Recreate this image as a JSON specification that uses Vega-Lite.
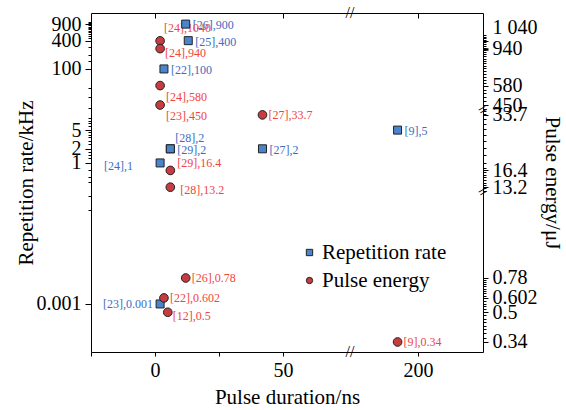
{
"$schema": "https://vega.github.io/schema/vega-lite/v6.json",
"width": 392, "height": 339,
"autosize": {"type": "none"},
"padding": {"left": 91, "top": 13, "right": 83, "bottom": 58},
"datasets": {
 "rate": [
  {"dur": 12, "val": 900, "label": "[26],900", "series": "Repetition rate"},
  {"dur": 13, "val": 400, "label": "[25],400", "series": "Repetition rate"},
  {"dur": 3.5, "val": 100, "label": "[22],100", "series": "Repetition rate"},
  {"dur": 6, "val": 2, "label": "[28],2", "series": "Repetition rate"},
  {"dur": 6, "val": 2, "label": "[29],2", "series": "Repetition rate"},
  {"dur": 42, "val": 2, "label": "[27],2", "series": "Repetition rate"},
  {"dur": 2, "val": 1, "label": "[24],1", "series": "Repetition rate"},
  {"dur": 192, "val": 5, "label": "[9],5", "series": "Repetition rate"},
  {"dur": 2, "val": 0.001, "label": "[23],0.001", "series": "Repetition rate"}
 ],
 "energy": [
  {"dur": 2, "val": 1040, "label": "[24],1040", "series": "Pulse energy"},
  {"dur": 2, "val": 940, "label": "[24],940", "series": "Pulse energy"},
  {"dur": 2, "val": 580, "label": "[24],580", "series": "Pulse energy"},
  {"dur": 2, "val": 450, "label": "[23],450", "series": "Pulse energy"},
  {"dur": 42, "val": 33.7, "label": "[27],33.7", "series": "Pulse energy"},
  {"dur": 6, "val": 16.4, "label": "[29],16.4", "series": "Pulse energy"},
  {"dur": 6, "val": 13.2, "label": "[28],13.2", "series": "Pulse energy"},
  {"dur": 12, "val": 0.78, "label": "[26],0.78", "series": "Pulse energy"},
  {"dur": 3.5, "val": 0.602, "label": "[22],0.602", "series": "Pulse energy"},
  {"dur": 5, "val": 0.5, "label": "[12],0.5", "series": "Pulse energy"},
  {"dur": 192, "val": 0.34, "label": "[9],0.34", "series": "Pulse energy"}
 ],
 "xbreaks": [{"bx": 125, "by": 1550}, {"bx": 125, "by": 0.000095}],
 "ybreaks": [{"bx": 225.4, "by": 5}, {"bx": 225.4, "by": 100}]
},
"layer": [
 {
  "data": {"name": "rate"},
  "transform": [{"filter": "indexof(['[26],900','[22],100','[27],2','[9],5','[29],2','[25],400'], datum.label) >= 0"}],
  "mark": {"type": "text", "align": "left", "baseline": "middle", "dx": 7, "dy": 1, "fontSize": 12, "font": "Liberation Serif", "color": "#3d6bbf"},
  "encoding": {
   "x": {"field": "dur", "type": "quantitative", "axis": null, "scale": {"type": "linear", "domain": [-25, 76.2, 173.4, 225.4], "range": [0, 259, 259, 392], "zero": false, "nice": false}},
   "y": {"field": "val", "type": "quantitative", "axis": null, "scale": {"type": "log", "domain": [0.000095, 1550], "nice": false}},
   "text": {"field": "label"}
  }
 },
 {
  "data": {"name": "rate"},
  "transform": [{"filter": "datum.label == '[28],2'"}],
  "mark": {"type": "text", "align": "left", "baseline": "middle", "dx": 5, "dy": -11, "fontSize": 12, "font": "Liberation Serif", "color": "#3d6bbf"},
  "encoding": {
   "x": {"field": "dur", "type": "quantitative", "axis": null, "scale": {"type": "linear", "domain": [-25, 76.2, 173.4, 225.4], "range": [0, 259, 259, 392], "zero": false, "nice": false}},
   "y": {"field": "val", "type": "quantitative", "axis": null, "scale": {"type": "log", "domain": [0.000095, 1550], "nice": false}},
   "text": {"field": "label"}
  }
 },
 {
  "data": {"name": "rate"},
  "transform": [{"filter": "datum.label == '[23],0.001'"}],
  "mark": {"type": "text", "align": "right", "baseline": "middle", "dx": -7, "dy": 0, "fontSize": 12, "font": "Liberation Serif", "color": "#3d6bbf"},
  "encoding": {
   "x": {"field": "dur", "type": "quantitative", "axis": null, "scale": {"type": "linear", "domain": [-25, 76.2, 173.4, 225.4], "range": [0, 259, 259, 392], "zero": false, "nice": false}},
   "y": {"field": "val", "type": "quantitative", "axis": null, "scale": {"type": "log", "domain": [0.000095, 1550], "nice": false}},
   "text": {"field": "label"}
  }
 },
 {
  "data": {"name": "rate"},
  "transform": [{"filter": "datum.label == '[24],1'"}],
  "mark": {"type": "text", "align": "right", "baseline": "middle", "dx": -27, "dy": 3, "fontSize": 12, "font": "Liberation Serif", "color": "#3d6bbf"},
  "encoding": {
   "x": {"field": "dur", "type": "quantitative", "axis": null, "scale": {"type": "linear", "domain": [-25, 76.2, 173.4, 225.4], "range": [0, 259, 259, 392], "zero": false, "nice": false}},
   "y": {"field": "val", "type": "quantitative", "axis": null, "scale": {"type": "log", "domain": [0.000095, 1550], "nice": false}},
   "text": {"field": "label"}
  }
 },
 {
  "data": {"name": "energy"},
  "transform": [{"filter": "indexof(['[27],33.7','[26],0.78','[22],0.602','[9],0.34'], datum.label) >= 0"}],
  "mark": {"type": "text", "align": "left", "baseline": "middle", "dx": 6, "dy": 0, "fontSize": 12, "font": "Liberation Serif", "color": "#f0453d"},
  "encoding": {
   "x": {"field": "dur", "type": "quantitative", "axis": null, "scale": {"type": "linear", "domain": [-25, 76.2, 173.4, 225.4], "range": [0, 259, 259, 392], "zero": false, "nice": false}},
   "y": {"field": "val", "type": "quantitative", "axis": null, "scale": {"type": "log", "domain": [0.2985, 2.38, 12.4, 35.9, 421.7, 1496], "range": [339, 179, 179, 97, 97, 0], "nice": false}},
   "text": {"field": "label"}
  }
 },
 {
  "data": {"name": "energy"},
  "transform": [{"filter": "datum.label == '[28],13.2'"}],
  "mark": {"type": "text", "align": "left", "baseline": "middle", "dx": 10, "dy": 3, "fontSize": 12, "font": "Liberation Serif", "color": "#f0453d"},
  "encoding": {
   "x": {"field": "dur", "type": "quantitative", "axis": null, "scale": {"type": "linear", "domain": [-25, 76.2, 173.4, 225.4], "range": [0, 259, 259, 392], "zero": false, "nice": false}},
   "y": {"field": "val", "type": "quantitative", "axis": null, "scale": {"type": "log", "domain": [0.2985, 2.38, 12.4, 35.9, 421.7, 1496], "range": [339, 179, 179, 97, 97, 0], "nice": false}},
   "text": {"field": "label"}
  }
 },
 {
  "data": {"name": "energy"},
  "transform": [{"filter": "indexof(['[24],940','[12],0.5'], datum.label) >= 0"}],
  "mark": {"type": "text", "align": "left", "baseline": "middle", "dx": 5, "dy": 4, "fontSize": 12, "font": "Liberation Serif", "color": "#f0453d"},
  "encoding": {
   "x": {"field": "dur", "type": "quantitative", "axis": null, "scale": {"type": "linear", "domain": [-25, 76.2, 173.4, 225.4], "range": [0, 259, 259, 392], "zero": false, "nice": false}},
   "y": {"field": "val", "type": "quantitative", "axis": null, "scale": {"type": "log", "domain": [0.2985, 2.38, 12.4, 35.9, 421.7, 1496], "range": [339, 179, 179, 97, 97, 0], "nice": false}},
   "text": {"field": "label"}
  }
 },
 {
  "data": {"name": "energy"},
  "transform": [{"filter": "indexof(['[24],580','[23],450'], datum.label) >= 0"}],
  "mark": {"type": "text", "align": "left", "baseline": "middle", "dx": 6, "dy": 11, "fontSize": 12, "font": "Liberation Serif", "color": "#f0453d"},
  "encoding": {
   "x": {"field": "dur", "type": "quantitative", "axis": null, "scale": {"type": "linear", "domain": [-25, 76.2, 173.4, 225.4], "range": [0, 259, 259, 392], "zero": false, "nice": false}},
   "y": {"field": "val", "type": "quantitative", "axis": null, "scale": {"type": "log", "domain": [0.2985, 2.38, 12.4, 35.9, 421.7, 1496], "range": [339, 179, 179, 97, 97, 0], "nice": false}},
   "text": {"field": "label"}
  }
 },
 {
  "data": {"name": "energy"},
  "transform": [{"filter": "datum.label == '[24],1040'"}],
  "mark": {"type": "text", "align": "left", "baseline": "middle", "dx": 4, "dy": -13, "fontSize": 12, "font": "Liberation Serif", "color": "#f0453d"},
  "encoding": {
   "x": {"field": "dur", "type": "quantitative", "axis": null, "scale": {"type": "linear", "domain": [-25, 76.2, 173.4, 225.4], "range": [0, 259, 259, 392], "zero": false, "nice": false}},
   "y": {"field": "val", "type": "quantitative", "axis": null, "scale": {"type": "log", "domain": [0.2985, 2.38, 12.4, 35.9, 421.7, 1496], "range": [339, 179, 179, 97, 97, 0], "nice": false}},
   "text": {"field": "label"}
  }
 },
 {
  "data": {"name": "energy"},
  "transform": [{"filter": "datum.label == '[29],16.4'"}],
  "mark": {"type": "text", "align": "left", "baseline": "middle", "dx": 7, "dy": -7, "fontSize": 12, "font": "Liberation Serif", "color": "#f0453d"},
  "encoding": {
   "x": {"field": "dur", "type": "quantitative", "axis": null, "scale": {"type": "linear", "domain": [-25, 76.2, 173.4, 225.4], "range": [0, 259, 259, 392], "zero": false, "nice": false}},
   "y": {"field": "val", "type": "quantitative", "axis": null, "scale": {"type": "log", "domain": [0.2985, 2.38, 12.4, 35.9, 421.7, 1496], "range": [339, 179, 179, 97, 97, 0], "nice": false}},
   "text": {"field": "label"}
  }
 },
 {
  "data": {"name": "rate"},
  "mark": {"type": "point", "filled": true, "stroke": "#222222", "strokeWidth": 1, "size": 64, "opacity": 1},
  "encoding": {
   "x": {"field": "dur", "type": "quantitative", "title": "Pulse duration/ns",
     "scale": {"type": "linear", "domain": [-25, 76.2, 173.4, 225.4], "range": [0, 259, 259, 392], "zero": false, "nice": false},
     "axis": {"orient": "bottom", "values": [-25, 0, 25, 50, 200], "labelExpr": "(datum.value == 0 || datum.value == 50 || datum.value == 200) ? datum.label : ''", "tickSize": 4, "labelPadding": 4, "titlePadding": 6, "labelFont": "Liberation Serif", "titleFont": "Liberation Serif"}},
   "y": {"field": "val", "type": "quantitative", "title": "Repetition rate/kHz",
     "scale": {"type": "log", "domain": [0.000095, 1550], "nice": false},
     "axis": {"orient": "left", "values": [0.001, 1, 2, 5, 100, 400, 900, 0.1, 0.2, 0.4, 0.5, 0.7, 1.25, 1.5, 1.75, 2.5, 3, 3.5, 4, 4.5, 6, 7, 8, 9, 15, 25, 40, 150, 200, 300, 450, 500, 550, 600, 650, 700, 750, 800, 850, 950, 1000],
       "labelExpr": "indexof([0.001, 1, 2, 5, 100, 400, 900], datum.value) >= 0 ? format(datum.value, '~g') : ''",
       "tickSize": {"condition": {"test": "indexof([0.001, 1, 2, 5, 100, 400, 900], datum.value) >= 0", "value": 6}, "value": 3},
       "labelPadding": 4, "titlePadding": 0, "labelFont": "Liberation Serif", "titleFont": "Liberation Serif"}},
   "shape": {"field": "series", "type": "nominal", "scale": {"domain": ["Repetition rate", "Pulse energy"], "range": ["square", "circle"]}, "legend": {"title": null}},
   "color": {"field": "series", "type": "nominal", "scale": {"domain": ["Repetition rate", "Pulse energy"], "range": ["#4a84cc", "#c63c40"]}, "legend": {"title": null}}
  }
 },
 {
  "data": {"name": "energy"},
  "mark": {"type": "point", "filled": true, "stroke": "#222222", "strokeWidth": 1, "size": 75, "opacity": 1},
  "encoding": {
   "x": {"field": "dur", "type": "quantitative",
     "scale": {"type": "linear", "domain": [-25, 76.2, 173.4, 225.4], "range": [0, 259, 259, 392], "zero": false, "nice": false},
     "axis": {"orient": "top", "values": [0, 50, 200], "labels": false, "tickSize": -5, "title": null}},
   "y": {"field": "val", "type": "quantitative", "title": "Pulse energy/μJ",
     "scale": {"type": "log", "domain": [0.2985, 2.38, 12.4, 35.9, 421.7, 1496], "range": [339, 179, 179, 97, 97, 0], "nice": false},
     "axis": {"orient": "right",
       "values": [1040, 940, 580, 450, 33.7, 16.4, 13.2, 0.78, 0.602, 0.5, 0.34, 425, 475, 500, 525, 550, 575, 600, 625, 650, 675, 700, 725, 750, 775, 800, 825, 850, 875, 900, 925, 950, 975, 1000, 1025, 1050, 1075, 1100, 1125, 12.5, 13, 13.5, 14, 14.5, 15, 15.5, 16, 17, 18, 20, 22, 24, 26, 28, 30, 32, 34, 35.5, 0.36, 0.38, 0.4, 0.42, 0.44, 0.46, 0.48, 0.52, 0.54, 0.56, 0.58, 0.6, 0.62, 0.64, 0.66, 0.68, 0.7, 0.72, 0.74, 0.76],
       "labelExpr": "datum.value == 1040 ? '1 040' : (indexof([940, 580, 450, 33.7, 16.4, 13.2, 0.78, 0.602, 0.5, 0.34], datum.value) >= 0 ? format(datum.value, '~g') : '')",
       "tickSize": {"condition": {"test": "indexof([1040, 940, 580, 450, 33.7, 16.4, 13.2, 0.78, 0.602, 0.5, 0.34], datum.value) >= 0", "value": 5}, "value": 3},
       "tickWidth": {"condition": {"test": "datum.value == 940", "value": 2.5}, "value": 1},
       "labelOffset": {"condition": {"test": "datum.value == 1040", "value": -13}, "value": 0},
       "labelPadding": 4, "titlePadding": 4, "labelFont": "Liberation Serif", "titleFont": "Liberation Serif"}},
   "shape": {"field": "series", "type": "nominal", "scale": {"domain": ["Repetition rate", "Pulse energy"], "range": ["square", "circle"]}, "legend": {"title": null}},
   "color": {"field": "series", "type": "nominal", "scale": {"domain": ["Repetition rate", "Pulse energy"], "range": ["#4a84cc", "#c63c40"]}, "legend": {"title": null}}
  }
 },
 {
  "data": {"name": "xbreaks"},
  "mark": {"type": "text", "align": "center", "baseline": "middle", "fontSize": 16, "font": "Liberation Serif", "color": "black", "text": "//"},
  "encoding": {
   "x": {"field": "bx", "type": "quantitative", "axis": null, "scale": {"type": "linear", "domain": [-25, 76.2, 173.4, 225.4], "range": [0, 259, 259, 392], "zero": false, "nice": false}},
   "y": {"field": "by", "type": "quantitative", "axis": null, "scale": {"type": "log", "domain": [0.000095, 1550], "nice": false}}
  }
 },
 {
  "data": {"name": "ybreaks"},
  "mark": {"type": "text", "align": "center", "baseline": "middle", "fontSize": 16, "font": "Liberation Serif", "color": "black", "text": "=", "angle": -30},
  "encoding": {
   "x": {"field": "bx", "type": "quantitative", "axis": null, "scale": {"type": "linear", "domain": [-25, 76.2, 173.4, 225.4], "range": [0, 259, 259, 392], "zero": false, "nice": false}},
   "y": {"field": "by", "type": "quantitative", "axis": null, "scale": {"type": "log", "domain": [0.2985, 2.38, 12.4, 35.9, 421.7, 1496], "range": [339, 179, 179, 97, 97, 0], "nice": false}}
  }
 }
],
"resolve": {"scale": {"x": "independent", "y": "independent"}, "axis": {"x": "independent", "y": "independent"}},
"config": {
 "view": {"stroke": null},
 "font": "Liberation Serif",
 "axis": {"domainColor": "black", "tickColor": "black", "labelColor": "black", "titleColor": "black", "labelFont": "Liberation Serif", "titleFont": "Liberation Serif", "labelFontSize": 20, "titleFontSize": 21, "titleFontWeight": "normal", "grid": false, "labelOverlap": false, "labelFlush": false, "domainWidth": 1, "tickWidth": 1},
 "legend": {"orient": "none", "legendX": 208, "legendY": 229, "labelFont": "Liberation Serif", "labelFontSize": 21, "labelColor": "black", "symbolSize": 40, "symbolStrokeColor": "#222222", "symbolStrokeWidth": 1, "rowPadding": 6, "padding": 0, "labelOffset": 2}
}
}
